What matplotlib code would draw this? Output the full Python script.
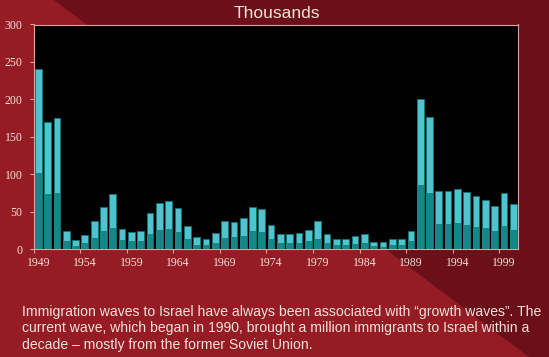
import matplotlib
matplotlib.use("Agg")
import matplotlib.pyplot as plt
from matplotlib.patches import Polygon

years = list(range(1949, 2001))
total = [240, 170, 175, 24, 12, 18.5, 37.5, 56, 73, 27, 23, 24, 48, 61.5, 64.5, 55,
         30.5, 16, 14, 21, 38, 36, 41.5, 56, 54, 32, 20, 20, 21, 26, 37, 20,
         13, 14, 17, 20, 10, 9, 13, 13, 24, 200, 176, 77, 77, 80, 76, 70.5,
         66, 57, 75, 60.5]
lower = [102, 73, 75, 11, 4, 8, 15, 24, 28, 12, 11, 11, 20, 26, 27, 23,
         13, 6, 5, 8, 15, 15.5, 17, 24, 23, 13, 8, 8, 8, 10.6, 14, 8,
         5, 5, 6.5, 8, 4, 3, 5, 5, 10.6, 85, 75, 33, 33, 35, 32, 29,
         28, 24, 31, 25]
tick_labels = ["1949", "1954", "1959", "1964", "1969", "1974", "1979", "1984",
               "1989", "1994", "1999"]
title = "Thousands"
caption = ("Immigration waves to Israel have always been associated with \u201cgrowth waves\u201d. The\n"
           "current wave, which began in 1990, brought a million immigrants to Israel within a\n"
           "decade \u2013 mostly from the former Soviet Union.")

LIGHT_RED = "#951c24"
DARK_RED = "#6b0f19"
TXT = "#f3e2da"
SPINE = "#d9a49c"

fig = plt.figure(figsize=(5.49, 3.57), dpi=100)
fig.patch.set_facecolor(LIGHT_RED)

W, H = 549.0, 357.0
def fp(x, y):
    return (x / W, 1 - y / H)
poly = Polygon([fp(54, 0), fp(549, 0), fp(549, 357), fp(529, 357)],
               closed=True, transform=fig.transFigure, facecolor=DARK_RED,
               edgecolor="none", zorder=-10)
fig.patches.append(poly)

ax = fig.add_axes([33.6 / W, 1 - 249 / H, (518 - 33.6) / W, (249 - 24.5) / H])
ax.set_facecolor("black")

x = list(range(len(years)))
ax.bar(x, total, width=0.72, color="#4fc4cf", edgecolor="#137376", linewidth=0.6, zorder=2)
ax.bar(x, lower, width=0.72, color="#178689", edgecolor="none", zorder=3)

ax.set_xlim(-0.5, len(years) - 0.5)
ax.set_ylim(0, 300)
ax.set_yticks(range(0, 301, 50))
ax.set_yticklabels([str(v) for v in range(0, 301, 50)], family="Liberation Serif",
                   fontsize=8.5, color=TXT)

label_pos = [years.index(int(t)) for t in tick_labels]
ax.set_xticks(label_pos)
ax.set_xticklabels(tick_labels, family="Liberation Serif", fontsize=8.5, color=TXT)
ax.tick_params(axis="x", length=0, pad=6)
ax.set_xticks([p - 0.5 for p in label_pos], minor=True)
ax.tick_params(axis="x", which="minor", length=3, color=SPINE, width=0.8)
ax.tick_params(axis="y", length=3, color=SPINE, width=0.8, pad=5)

for s in ax.spines.values():
    s.set_color(SPINE)
    s.set_linewidth(0.8)

fig.text(277 / W, 1 - 13 / H, title, ha="center", va="center",
         family="Liberation Sans", fontsize=12.5, color=TXT)

fig.text(22 / W, 1 - 305 / H, caption, ha="left", va="top",
         family="Liberation Sans", fontsize=10.1, color=TXT, linespacing=1.22)

fig.savefig("out.png", dpi=100, facecolor=fig.get_facecolor())
